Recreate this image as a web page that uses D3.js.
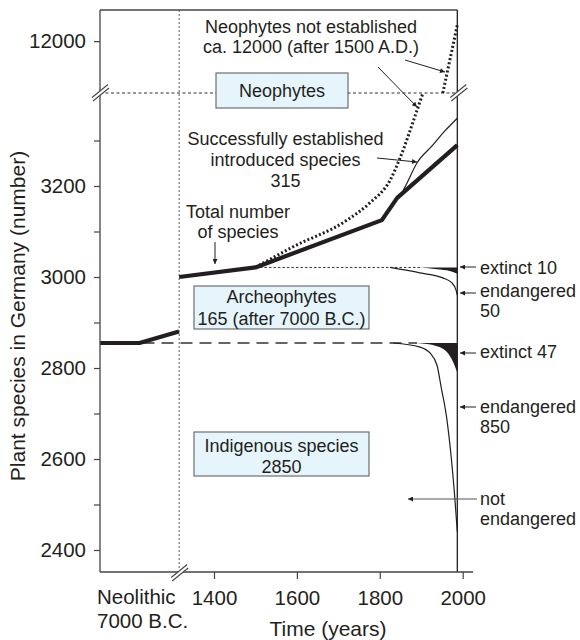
<!DOCTYPE html>
<html><head><meta charset="utf-8">
<script src="https://cdn.jsdelivr.net/npm/d3@7"></script>
<style>body{margin:0;background:#fff}svg{display:block}</style>
</head><body>
<svg id="c" width="580" height="640"></svg>
<script>
// ---------- data ----------
const neolithicSteps = [0, 1, 2];
const neolithicTotal = [2855, 2855, 2880];
const totalYears = [1316, 1500, 1805, 1842, 1987];
const totalValues = [3000, 3021, 3125, 3174, 3290];
const establishedYears = [1856, 1861, 1890, 1926, 1957, 1987];
const establishedValues = [3190, 3198, 3251, 3288, 3321, 3349];
const notEstLowYears = [1500, 1590, 1721, 1776, 1825, 1849, 1890, 1904];
const notEstLowValues = [3021, 3066, 3125, 3163, 3213, 3262, 3367, 3404];
const notEstHighYears = [1952, 1969, 1987];
const notEstHighValues = [11000, 11636, 12311];
const archeoLevel = 3021;
const indigenousLevel = 2855;
const archeoExtinctYears = [1897, 1938, 1969, 1987];
const archeoExtinctValues = [3021, 3017, 3013, 3007];
const archeoEndangeredYears = [1825, 1897, 1952, 1974, 1984, 1987];
const archeoEndangeredValues = [3021, 3009, 2998, 2987, 2971, 2960];
const indigExtinctYears = [1890, 1938, 1962, 1976, 1987];
const indigExtinctValues = [2855, 2848, 2835, 2815, 2790];
const indigEndangeredYears = [1832, 1897, 1921, 1938, 1948, 1962, 1981, 1987];
const indigEndangeredValues = [2855, 2846, 2833, 2806, 2758, 2686, 2514, 2440];
const xTicks = [1400, 1600, 1800, 2000];
const yTicksLow = [2400, 2500, 2600, 2700, 2800, 2900, 3000, 3100, 3200, 3300];
const yTicksTop = [12000];
const startYear = 1316, endYear = 1987, axisEndYear = 2025;

// ---------- scales ----------
const x = d3.scaleLinear().domain([1400, 2000]).range([214, 462.7]);
const xNeo = d3.scaleLinear().domain([0, 2]).range([100, 179]);
const yLow = d3.scaleLinear().domain([2400, 3000]).range([550, 277]);
const yTop = d3.scaleLinear().domain([11000, 12600]).range([93, 10]);

const svg = d3.select("#c");
const FONT = "'Liberation Sans', Arial, Helvetica, sans-serif";
const INK = "#231f20";
svg.append("defs").append("marker").attr("id", "ah")
  .attr("viewBox", "0 0 10 10").attr("refX", 10).attr("refY", 5)
  .attr("markerWidth", 7).attr("markerHeight", 5).attr("markerUnits", "userSpaceOnUse")
  .attr("orient", "auto")
  .append("path").attr("d", "M0,0L10,5L0,10z").attr("fill", INK);

const L = 100, R = x(endYear), T = yTop.range()[1], B = 572, BY = yTop.range()[0], BX = x(startYear);
const zip = (a, b) => a.map((v, i) => [v, b[i]]);

// reference lines
svg.append("line").attr("x1", BX).attr("x2", BX).attr("y1", T).attr("y2", B - 4)
  .attr("stroke", "#777").attr("stroke-width", 1.2).attr("stroke-dasharray", "2,2");
svg.append("line").attr("x1", L).attr("x2", R).attr("y1", BY).attr("y2", BY)
  .attr("stroke", "#333").attr("stroke-width", 1).attr("stroke-dasharray", "3,2.5");
svg.append("line").attr("x1", x(1500)).attr("x2", x(1900)).attr("y1", yLow(archeoLevel)).attr("y2", yLow(archeoLevel))
  .attr("stroke", "#333").attr("stroke-width", 1).attr("stroke-dasharray", "2.5,2");
svg.append("line").attr("x1", xNeo(1) + 3).attr("x2", x(1890)).attr("y1", yLow(indigenousLevel)).attr("y2", yLow(indigenousLevel))
  .attr("stroke", "#333").attr("stroke-width", 1.3).attr("stroke-dasharray", "12,7");

// wedges (extinct)
const wedge = d3.area().x(d => x(d[0])).y0(d => yLow(d[2])).y1(d => yLow(d[1])).curve(d3.curveMonotoneX);
svg.append("path").attr("d", wedge(archeoExtinctYears.map((v, i) => [v, archeoExtinctValues[i], archeoLevel])))
  .attr("fill", INK);
svg.append("path").attr("d", wedge(indigExtinctYears.map((v, i) => [v, indigExtinctValues[i], indigenousLevel])))
  .attr("fill", INK);

// thin curves
const thin = d3.line().x(d => x(d[0])).y(d => yLow(d[1])).curve(d3.curveMonotoneX);
svg.append("path").attr("d", thin(zip(archeoEndangeredYears, archeoEndangeredValues)))
  .attr("fill", "none").attr("stroke", INK).attr("stroke-width", 1.2);
svg.append("path").attr("d", thin(zip(indigEndangeredYears, indigEndangeredValues)))
  .attr("fill", "none").attr("stroke", INK).attr("stroke-width", 1.2);
svg.append("path").attr("d", thin(zip(establishedYears, establishedValues)))
  .attr("fill", "none").attr("stroke", INK).attr("stroke-width", 1.2);

// dotted neophytes not established
svg.append("path").attr("d", thin(zip(notEstLowYears, notEstLowValues)))
  .attr("fill", "none").attr("stroke", INK).attr("stroke-width", 3).attr("stroke-dasharray", "2,2.2");
const thinTop = d3.line().x(d => x(d[0])).y(d => yTop(d[1])).curve(d3.curveMonotoneX);
svg.append("path").attr("d", thinTop(zip(notEstHighYears, notEstHighValues)))
  .attr("fill", "none").attr("stroke", INK).attr("stroke-width", 3).attr("stroke-dasharray", "2,2.2");

// total number (thick)
const thick = d3.line().x(d => x(d[0])).y(d => yLow(d[1]));
svg.append("path").attr("d", thick(zip(totalYears, totalValues)))
  .attr("fill", "none").attr("stroke", INK).attr("stroke-width", 4.2).attr("stroke-linejoin", "round");
const thickNeo = d3.line().x(d => xNeo(d[0])).y(d => yLow(d[1]));
svg.append("path").attr("d", thickNeo(zip(neolithicSteps, neolithicTotal)))
  .attr("fill", "none").attr("stroke", INK).attr("stroke-width", 4.2).attr("stroke-linejoin", "round");

// frame
const AX = "#444";
svg.append("line").attr("x1", L).attr("x2", R).attr("y1", T).attr("y2", T).attr("stroke", AX).attr("stroke-width", 1.3);
svg.append("line").attr("x1", L).attr("x2", L).attr("y1", T).attr("y2", B).attr("stroke", AX).attr("stroke-width", 1.3);
svg.append("line").attr("x1", R).attr("x2", R).attr("y1", T).attr("y2", B).attr("stroke", INK).attr("stroke-width", 1.3);
svg.append("line").attr("x1", L).attr("x2", x(axisEndYear)).attr("y1", B).attr("y2", B).attr("stroke", AX).attr("stroke-width", 1.3);

// breaks
function brk(cx, cy) {
  svg.append("path").attr("d", `M${cx-8},${cy+5.5}L${cx+8},${cy-7.5}L${cx+9},${cy-4}L${cx-7},${cy+9}Z`).attr("fill", "#fff");
  svg.append("line").attr("x1", cx - 8).attr("y1", cy + 5.5).attr("x2", cx + 8).attr("y2", cy - 7.5).attr("stroke", AX).attr("stroke-width", 1.1);
  svg.append("line").attr("x1", cx - 7).attr("y1", cy + 9).attr("x2", cx + 9).attr("y2", cy - 4).attr("stroke", AX).attr("stroke-width", 1.1);
}
brk(L, BY - 1);
brk(R + 1, BY - 1);
brk(BX, B);

// axes
const fmt = d3.format("d");
const yAxL = svg.append("g").attr("transform", `translate(${L},0)`)
  .call(d3.axisLeft(yLow).tickValues(yTicksLow).tickSize(6).tickPadding(8)
    .tickFormat(d => d % 200 === 0 ? fmt(d) : ""));
const yAxT = svg.append("g").attr("transform", `translate(${L},0)`)
  .call(d3.axisLeft(yTop).tickValues(yTicksTop).tickSize(6).tickPadding(8).tickFormat(fmt));
const xAx = svg.append("g").attr("transform", `translate(0,${B})`)
  .call(d3.axisBottom(x).tickValues(xTicks).tickSize(7).tickPadding(11).tickFormat(fmt));
[yAxL, yAxT, xAx].forEach(g => {
  g.select(".domain").remove();
  g.selectAll("line").attr("stroke", AX).attr("stroke-width", 1.2);
  g.selectAll("text").attr("font-family", FONT).attr("font-size", 20.5).attr("fill", INK);
});

function txt(xp, yp, s, size, anchor) {
  return svg.append("text").attr("x", xp).attr("y", yp).text(s)
    .attr("font-family", FONT).attr("font-size", size || 18).attr("fill", INK)
    .attr("text-anchor", anchor || "middle");
}
txt(97, 604, "Neolithic", 20.5, "start");
txt(97, 628, "7000 B.C.", 20.5, "start");
txt(328, 636, "Time (years)", 21);
svg.append("text").attr("transform", "translate(25,316) rotate(-90)")
  .attr("text-anchor", "middle").attr("font-family", FONT).attr("font-size", 21).attr("fill", INK)
  .text("Plant species in Germany (number)");

// boxes
function box(x0, y0, w, h, lines, base) {
  svg.append("rect").attr("x", x0).attr("y", y0).attr("width", w).attr("height", h)
    .attr("fill", "#e6f5fb").attr("stroke", "#6d6e71").attr("stroke-width", 1.2);
  lines.forEach((s, i) => txt(x0 + w / 2, base[i], s));
}
box(216, 73, 132, 35, ["Neophytes"], [96.5]);
box(194, 286, 175, 43, ["Archeophytes", "165 (after 7000 B.C.)"], [303, 325]);
box(194, 432, 175, 44, ["Indigenous species", "2850"], [452, 473]);

// annotations
txt(311, 32.5, "Neophytes not established");
txt(311, 53, "ca. 12000 (after 1500 A.D.)");
txt(285.5, 145, "Successfully established");
txt(285.5, 166, "introduced species");
txt(285.5, 187, "315");
txt(238, 218, "Total number");
txt(238, 238, "of species");

function arrow(x1, y1, x2, y2, col) {
  svg.append("line").attr("x1", x1).attr("y1", y1).attr("x2", x2).attr("y2", y2)
    .attr("stroke", col || INK).attr("stroke-width", 1).attr("marker-end", "url(#ah)");
}
arrow(405, 60, 445, 72);
arrow(378, 67, 417, 107);
arrow(377, 158, 417, 162);
arrow(215, 242, 215, 264);
arrow(476, 267, 460, 267);
arrow(476, 293, 460, 293);
arrow(476, 353, 460, 353);
arrow(476, 407, 460, 407);
arrow(477, 499, 408, 499, "#555");

txt(480, 273.5, "extinct 10", 18, "start");
txt(480, 296.5, "endangered", 18, "start");
txt(480, 317, "50", 18, "start");
txt(480, 357.5, "extinct 47", 18, "start");
txt(480, 412.5, "endangered", 18, "start");
txt(480, 432.5, "850", 18, "start");
txt(480, 504.5, "not", 18, "start");
txt(480, 524.5, "endangered", 18, "start");
</script>
</body></html>
